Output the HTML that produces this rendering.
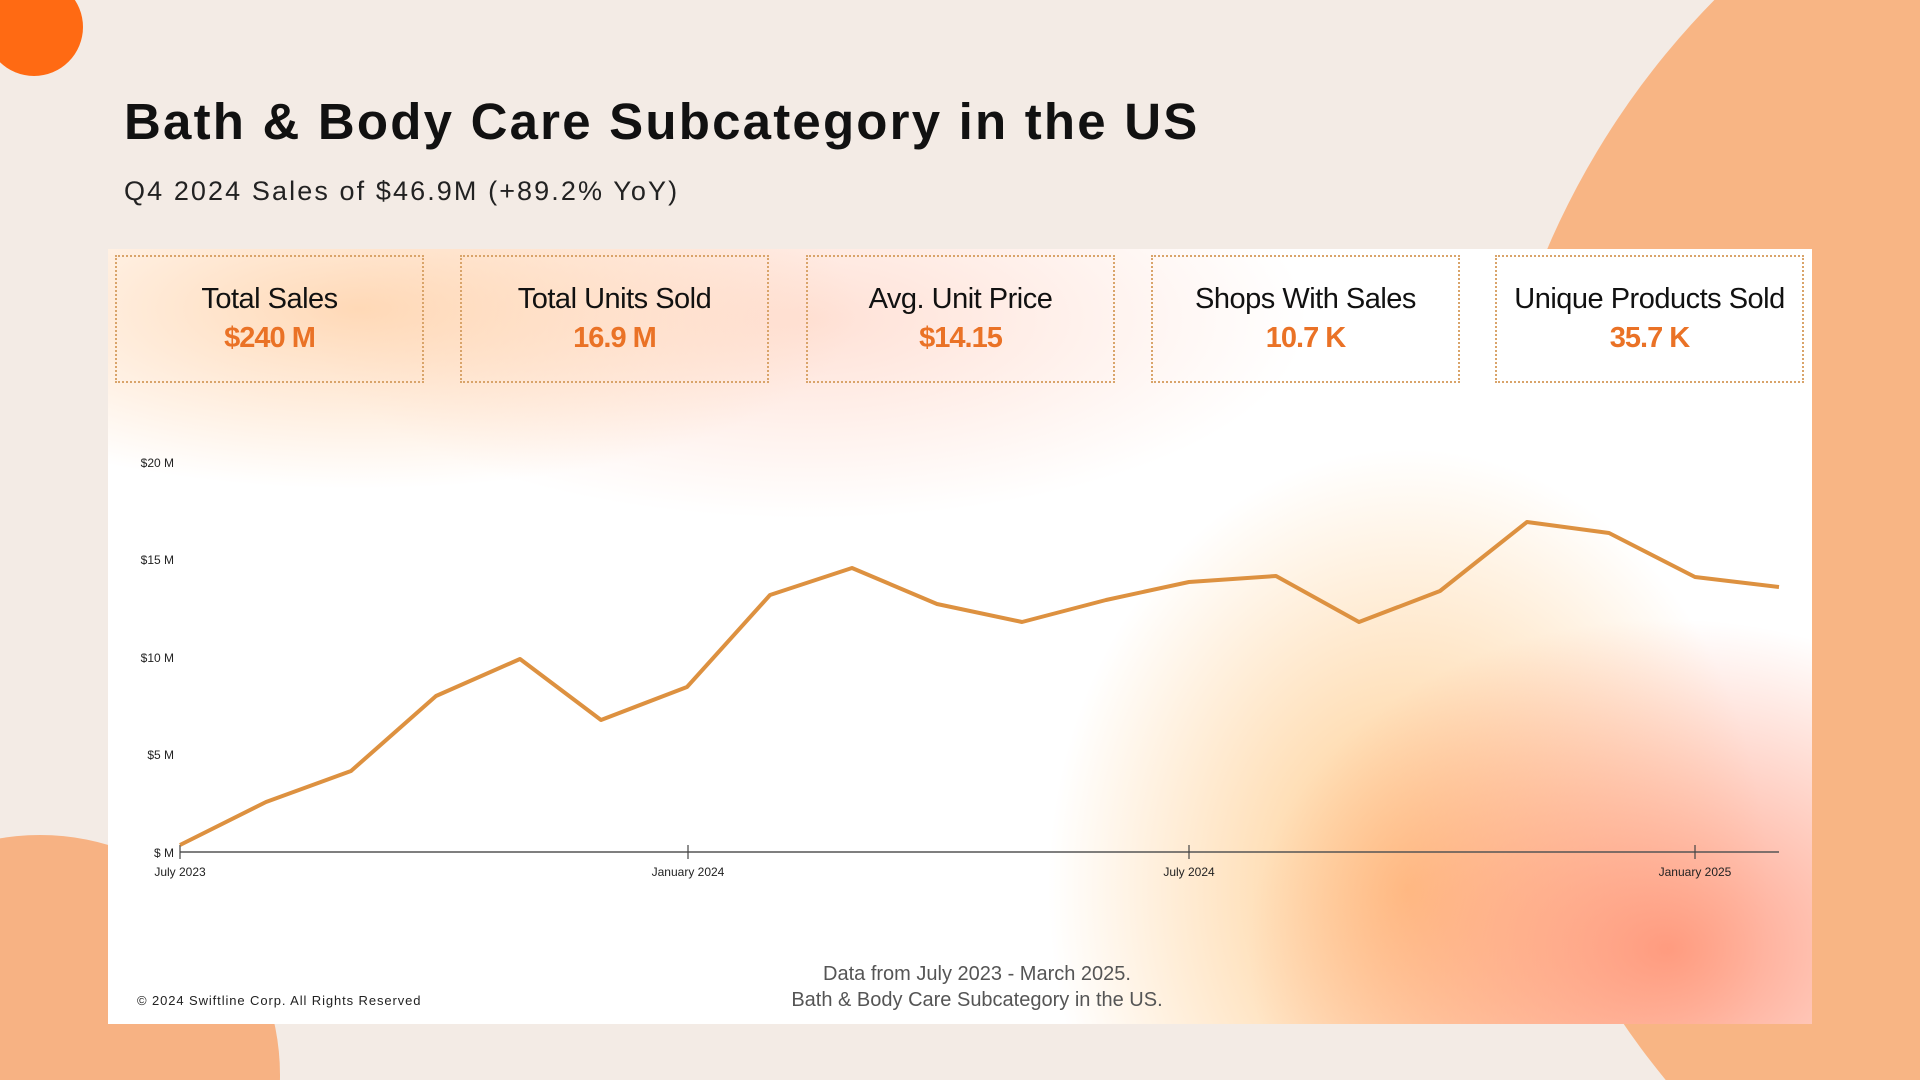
<!DOCTYPE html>
<html><head><meta charset="utf-8"><style>
html,body{margin:0;padding:0;width:1920px;height:1080px;overflow:hidden;background:#f3ebe5}
#root{position:relative;width:1920px;height:1080px;overflow:hidden;background:#f3ebe5;font-family:"Liberation Sans",sans-serif}
.abs{position:absolute}
.panel{left:108px;top:249px;width:1704px;height:775px;background:
radial-gradient(ellipse 420px 330px at 1560px 700px,rgba(255,140,110,0.85),rgba(255,160,120,0) 100%),
radial-gradient(ellipse 360px 440px at 1300px 640px,rgba(255,190,110,0.8),rgba(255,200,130,0) 100%),
radial-gradient(ellipse 500px 180px at 250px 60px,rgba(255,205,160,0.75),rgba(255,220,190,0) 100%),
radial-gradient(ellipse 500px 200px at 700px 70px,rgba(255,200,180,0.55),rgba(255,220,200,0) 100%),
#fff}
.kpi{top:255px;width:309px;height:128px;border:2px dotted #d9a46a;box-sizing:border-box;text-align:center}
.kpi .l{margin-top:26px;font-size:29px;color:#111;letter-spacing:-0.5px}
.kpi .v{margin-top:6px;font-size:29px;font-weight:bold;color:#ea7226;letter-spacing:-1px}
</style></head><body><div id="root">
<svg class="abs" style="left:0;top:0" width="1920" height="1080">
<circle cx="34" cy="27" r="49" fill="#ff6a13"/>
<circle cx="2290" cy="567" r="808" fill="#f8b584"/>
<circle cx="40" cy="1075" r="240" fill="#f7b283"/>
</svg>
<div class="abs" style="left:124px;top:92px;font-size:51px;font-weight:bold;color:#111;letter-spacing:2.2px">Bath &amp; Body Care Subcategory in the US</div>
<div class="abs" style="left:124px;top:176px;font-size:27px;color:#222;letter-spacing:2.1px">Q4 2024 Sales of $46.9M (+89.2% YoY)</div>
<div class="abs panel"></div>
<div class="abs kpi" style="left:115px"><div class="l">Total Sales</div><div class="v">$240 M</div></div>
<div class="abs kpi" style="left:460px"><div class="l">Total Units Sold</div><div class="v">16.9 M</div></div>
<div class="abs kpi" style="left:806px"><div class="l">Avg. Unit Price</div><div class="v">$14.15</div></div>
<div class="abs kpi" style="left:1151px"><div class="l">Shops With Sales</div><div class="v">10.7 K</div></div>
<div class="abs kpi" style="left:1495px"><div class="l">Unique Products Sold</div><div class="v">35.7 K</div></div>
<svg class="abs" style="left:0;top:0" width="1920" height="1080" font-family="Liberation Sans, sans-serif">
<g font-size="12" fill="#222" text-anchor="end">
<text x="174" y="467">$20 M</text><text x="174" y="564">$15 M</text><text x="174" y="662">$10 M</text><text x="174" y="759">$5 M</text><text x="174" y="857">$ M</text>
</g>
<line x1="180" y1="852" x2="1779" y2="852" stroke="#555" stroke-width="1.5"/>
<g stroke="#444" stroke-width="1.2"><line x1="180" y1="845" x2="180" y2="859"/><line x1="688" y1="845" x2="688" y2="859"/><line x1="1189" y1="845" x2="1189" y2="859"/><line x1="1695" y1="845" x2="1695" y2="859"/></g>
<g font-size="12" fill="#222" text-anchor="middle">
<text x="180" y="876">July 2023</text><text x="688" y="876">January 2024</text><text x="1189" y="876">July 2024</text><text x="1695" y="876">January 2025</text>
</g>
<polyline fill="none" stroke="#dd9140" stroke-width="4" stroke-linejoin="round" points="180,845 266,802 351,771 436,696 520,659 601,720 687,687 770,595 852,568 937,604 1022,622 1106,600 1189,582 1276,576 1359,622 1440,591 1527,522 1609,533 1695,577 1779,587"/>
<g font-size="20" fill="#555" text-anchor="middle"><text x="977" y="980">Data from July 2023 - March 2025.</text><text x="977" y="1006">Bath &amp; Body Care Subcategory in the US.</text></g>
<text x="137" y="1005" font-size="13" fill="#222" letter-spacing="0.9">© 2024 Swiftline Corp. All Rights Reserved</text>
</svg>
</div></body></html>
